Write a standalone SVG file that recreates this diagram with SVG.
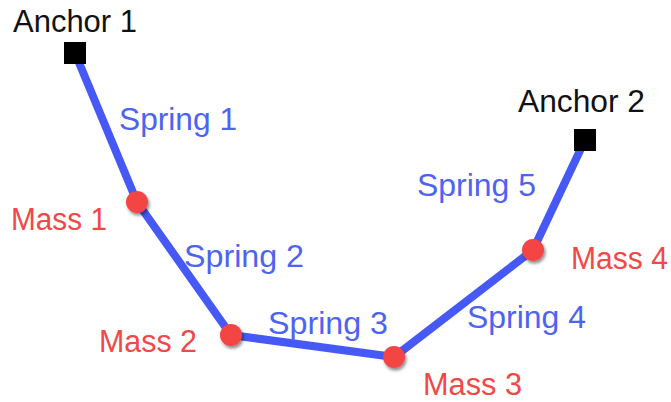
<svg xmlns="http://www.w3.org/2000/svg" width="671" height="402" viewBox="0 0 671 402">
<style>
text{font-family:"Liberation Sans",Arial,sans-serif;font-size:31px}
.a{fill:#111}
.s{fill:#4d63f2}
.m{fill:#f24848}
.spring{fill:none;stroke:#4658f5;stroke-width:8;stroke-linejoin:round}
.mass{fill:#f44444;filter:url(#sh)}
.anchor{fill:#000}
</style>
<defs>
<filter id="sh" x="-50%" y="-50%" width="200%" height="200%">
<feDropShadow dx="1.5" dy="2.5" stdDeviation="1.5" flood-color="#000" flood-opacity="0.45"/>
</filter>
</defs>
<g id="connectors">
<polyline class="spring" points="75,53 137,202 231,335 394,357 533,250 585,140"/>
</g>
<g id="anchor1"><rect class="anchor" x="64" y="42" width="22" height="22"/><text class="a" x="13" y="32" textLength="124" lengthAdjust="spacingAndGlyphs">Anchor 1</text></g>
<g id="anchor2"><rect class="anchor" x="574" y="129" width="22" height="22"/><text class="a" x="518" y="112" textLength="127" lengthAdjust="spacingAndGlyphs">Anchor 2</text></g>
<g id="mass1"><circle class="mass" cx="137" cy="202" r="11"/><text class="m" x="11" y="230" textLength="96" lengthAdjust="spacingAndGlyphs">Mass 1</text></g>
<g id="mass2"><circle class="mass" cx="231" cy="335" r="11"/><text class="m" x="99" y="352" textLength="98" lengthAdjust="spacingAndGlyphs">Mass 2</text></g>
<g id="mass3"><circle class="mass" cx="394" cy="357" r="11"/><text class="m" x="423" y="395" textLength="99" lengthAdjust="spacingAndGlyphs">Mass 3</text></g>
<g id="mass4"><circle class="mass" cx="533" cy="250" r="11"/><text class="m" x="571" y="269" textLength="97" lengthAdjust="spacingAndGlyphs">Mass 4</text></g>
<g id="labels">
<text class="s" x="119" y="130" textLength="118" lengthAdjust="spacingAndGlyphs">Spring 1</text>
<text class="s" x="184" y="267" textLength="120" lengthAdjust="spacingAndGlyphs">Spring 2</text>
<text class="s" x="268" y="334" textLength="120" lengthAdjust="spacingAndGlyphs">Spring 3</text>
<text class="s" x="467" y="328" textLength="119" lengthAdjust="spacingAndGlyphs">Spring 4</text>
<text class="s" x="417" y="196" textLength="119" lengthAdjust="spacingAndGlyphs">Spring 5</text>
</g>
</svg>
